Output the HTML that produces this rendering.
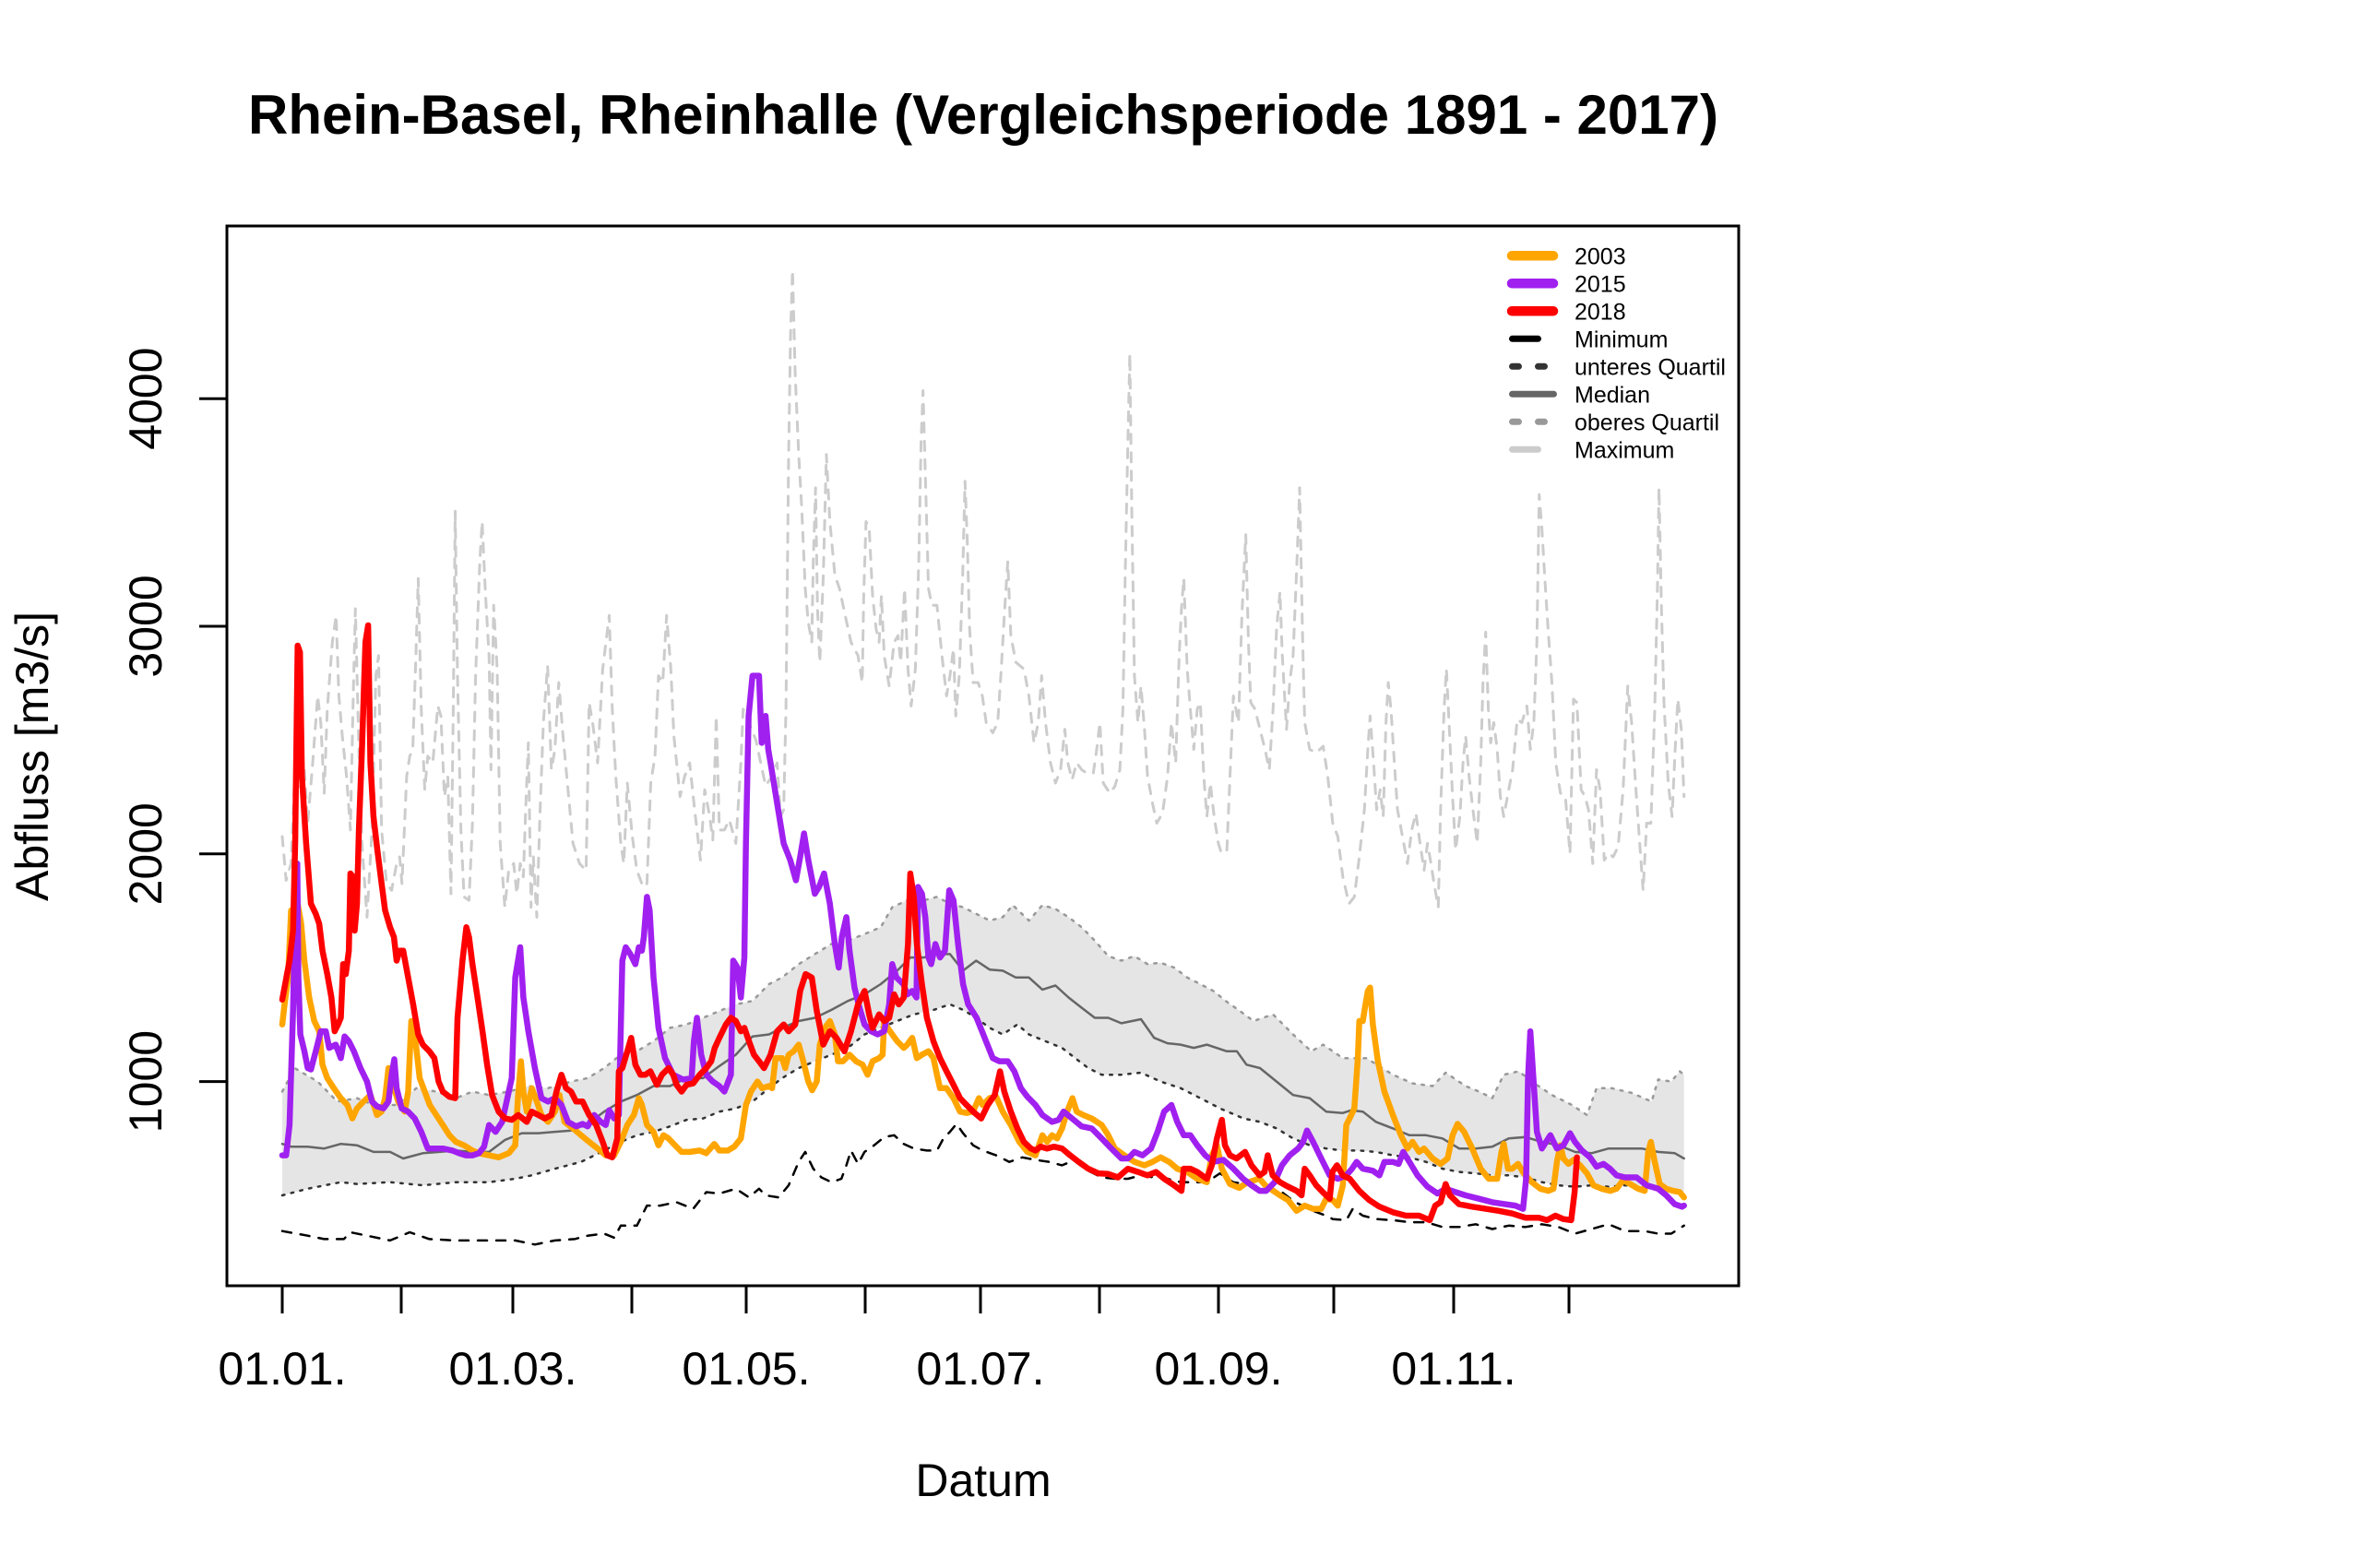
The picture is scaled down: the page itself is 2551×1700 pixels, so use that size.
<!DOCTYPE html>
<html>
<head>
<meta charset="utf-8">
<style>
html,body{margin:0;padding:0;background:#fff;}
svg{display:block;}
text{font-family:"Liberation Sans",Arial,sans-serif;fill:#000;}
</style>
</head>
<body>
<svg id="chart" width="2551" height="1700" viewBox="0 0 2551 1700" xmlns="http://www.w3.org/2000/svg">
<rect x="0" y="0" width="2551" height="1700" fill="#fff"/>
<g id="data"></g>
<rect x="246" y="245" width="1639" height="1149" fill="none" stroke="#000" stroke-width="3"/>
<g stroke="#000" stroke-width="3">
<line x1="216" y1="1172.6" x2="246" y2="1172.6"/>
<line x1="216" y1="925.8" x2="246" y2="925.8"/>
<line x1="216" y1="679" x2="246" y2="679"/>
<line x1="216" y1="432.2" x2="246" y2="432.2"/>
<line x1="306" y1="1394" x2="306" y2="1424"/>
<line x1="435" y1="1394" x2="435" y2="1424"/>
<line x1="556" y1="1394" x2="556" y2="1424"/>
<line x1="685" y1="1394" x2="685" y2="1424"/>
<line x1="809" y1="1394" x2="809" y2="1424"/>
<line x1="938" y1="1394" x2="938" y2="1424"/>
<line x1="1063" y1="1394" x2="1063" y2="1424"/>
<line x1="1192" y1="1394" x2="1192" y2="1424"/>
<line x1="1321" y1="1394" x2="1321" y2="1424"/>
<line x1="1446" y1="1394" x2="1446" y2="1424"/>
<line x1="1576" y1="1394" x2="1576" y2="1424"/>
<line x1="1701" y1="1394" x2="1701" y2="1424"/>
</g>
<text x="1066" y="145" font-size="60" font-weight="bold" text-anchor="middle" textLength="1594" lengthAdjust="spacingAndGlyphs">Rhein-Basel, Rheinhalle (Vergleichsperiode 1891 - 2017)</text>
<g font-size="50" text-anchor="middle">
<text transform="translate(175,1172.6) rotate(-90)">1000</text>
<text transform="translate(175,925.8) rotate(-90)">2000</text>
<text transform="translate(175,679) rotate(-90)">3000</text>
<text transform="translate(175,432.2) rotate(-90)">4000</text>
<text x="306" y="1501">01.01.</text>
<text x="556" y="1501">01.03.</text>
<text x="809" y="1501">01.05.</text>
<text x="1063" y="1501">01.07.</text>
<text x="1321" y="1501">01.09.</text>
<text x="1576" y="1501">01.11.</text>
<text x="1066" y="1622">Datum</text>
<text transform="translate(52,820) rotate(-90)">Abfluss [m3/s]</text>
</g>
<g stroke-linecap="round" fill="none">
<line x1="1639" y1="277.3" x2="1684" y2="277.3" stroke="#FFA500" stroke-width="10.5"/>
<line x1="1639" y1="307.3" x2="1684" y2="307.3" stroke="#A020F0" stroke-width="10.5"/>
<line x1="1639" y1="337.3" x2="1684" y2="337.3" stroke="#FF0000" stroke-width="10.5"/>
<line x1="1639.5" y1="367.3" x2="1684.5" y2="367.3" stroke="#000" stroke-width="7" stroke-dasharray="28 28"/>
<line x1="1639.5" y1="397.3" x2="1684.5" y2="397.3" stroke="#333" stroke-width="7" stroke-dasharray="7 21"/>
<line x1="1639.5" y1="427.3" x2="1684.5" y2="427.3" stroke="#666" stroke-width="7"/>
<line x1="1639.5" y1="457.3" x2="1684.5" y2="457.3" stroke="#999" stroke-width="7" stroke-dasharray="7 21"/>
<line x1="1639.5" y1="487.3" x2="1684.5" y2="487.3" stroke="#ccc" stroke-width="7" stroke-dasharray="28 28"/>
</g>
<g font-size="25">
<text x="1707" y="286.3">2003</text>
<text x="1707" y="316.3">2015</text>
<text x="1707" y="346.3">2018</text>
<text x="1707" y="376.3">Minimum</text>
<text x="1707" y="406.3">unteres Quartil</text>
<text x="1707" y="436.3">Median</text>
<text x="1707" y="466.3">oberes Quartil</text>
<text x="1707" y="496.3">Maximum</text>
</g>
</svg>
<script>
(function(){
var X=function(d){return 306+4.175*d;};
var Y=function(v){return 1172.6-(v-1000)*0.2468;};
function pts(a){return a.map(function(p){return X(p[0]).toFixed(1)+','+Y(p[1]).toFixed(1);}).join(' ');}
var NS="http://www.w3.org/2000/svg";
var g=document.getElementById('data');
function add(tag,attrs){var e=document.createElementNS(NS,tag);for(var k in attrs)e.setAttribute(k,attrs[k]);g.appendChild(e);return e;}

var o03=[[0,1251],[0.6,1339],[1.5,1457],[2.3,1752],[3.35,1693],[4,1781],[4.9,1693],[5.75,1531],[7,1369],[8.3,1266],[9.6,1221],[10.45,1074],[11.7,1015],[13.4,971],[15.2,927],[16.9,897],[18.2,838],[19.4,882],[21.1,912],[22.9,941],[24.6,853],[25.8,868],[26.7,927],[27.6,1059],[28.8,986],[30.1,912],[31.8,868],[32.7,956],[33.5,1266],[34.7,1162],[35.7,1015],[37,956],[38.3,897],[40,853],[41.7,809],[43.4,764],[45.1,735],[47.2,720],[49.4,697],[51.1,685],[53.7,676],[56.2,667],[58.8,685],[60.5,720],[61.2,927],[62,1089],[62.6,956],[63.5,868],[64.8,971],[66.1,912],[67.3,853],[69,823],[70.8,868],[72,941],[73.3,823],[75.5,794],[77.6,764],[79.7,735],[81.9,706],[84,676],[86.2,676],[87.9,735],[89.6,809],[91.3,853],[92.6,927],[93.4,897],[94.7,809],[96.4,779],[97.7,720],[99,764],[100.3,750],[102,720],[103.7,691],[105.8,691],[108.4,697],[110.1,685],[112.2,726],[113.5,697],[115.7,697],[117.4,714],[119.1,750],[120.4,897],[121.7,956],[123.4,1000],[124.6,971],[126.4,980],[127.2,971],[128.1,1103],[129.8,1103],[130.6,1059],[131.5,1118],[132.8,1133],[134.1,1162],[135.3,1089],[136.6,1000],[137.6,962],[138.8,1000],[139.6,1162],[140.9,1236],[142.2,1266],[143.5,1207],[144.3,1089],[145.6,1089],[147.3,1118],[149,1089],[150.7,1074],[152,1030],[153.3,1089],[155,1103],[155.9,1118],[156.3,1266],[157.2,1236],[158.4,1207],[159.7,1177],[161.4,1148],[162.3,1162],[163.6,1192],[164.8,1103],[166.1,1118],[167.8,1133],[169.1,1103],[170,1030],[170.8,971],[172.5,971],[174.3,927],[176,868],[177.7,862],[179.4,868],[180.9,927],[181.9,897],[183.7,927],[185.4,933],[187.1,868],[189.2,809],[191.4,735],[193.5,691],[195.6,676],[197.4,764],[198.6,735],[199.9,764],[201.2,750],[202.5,794],[203.8,868],[205.2,927],[206.3,868],[208,853],[210.2,838],[212.8,809],[214.5,764],[216.2,706],[218.7,676],[221.3,647],[223.9,632],[226,647],[228.1,667],[230.3,647],[232.4,617],[235,603],[237.6,573],[240.1,558],[241.4,676],[242.7,720],[244,617],[246.1,550],[248.5,533],[250.4,555],[252.2,565],[253.7,575],[255.2,545],[256.9,525],[259.1,500],[261.2,479],[263.4,432],[265.5,455],[267.7,441],[269.8,441],[271.1,485],[272.8,479],[274.1,455],[275.4,544],[276.3,809],[277.6,853],[278.4,882],[279.3,1103],[279.7,1266],[280.6,1266],[281.3,1339],[281.9,1398],[282.5,1413],[283.2,1251],[284.5,1089],[286.2,956],[288.4,853],[290.5,764],[292.2,706],[293.5,735],[295.2,691],[296.5,706],[298.7,662],[300.8,638],[302.6,662],[303.9,764],[305.2,814],[306.9,779],[309,706],[311.2,617],[313.3,573],[315.5,573],[316.6,691],[317.2,726],[318.3,617],[319.4,617],[320.9,638],[322.4,597],[324.5,558],[326.7,529],[328.8,520],[330.1,529],[331,647],[331.9,720],[332.7,662],[334,638],[335.3,656],[337,632],[338.8,597],[340.5,544],[342.6,529],[344.8,520],[346.5,529],[348.2,567],[350,550],[352.1,529],[353.8,520],[354.7,691],[355.4,735],[356.4,647],[357.7,550],[359.4,529],[361.2,520],[362.9,514],[364,491]];

var p15=[[0,676],[1,676],[1.9,809],[2.8,1310],[3.35,1752],[3.9,1958],[4.2,1457],[4.7,1207],[5.75,1133],[6.6,1059],[7.46,1053],[8.7,1133],[10,1221],[11.3,1221],[12.2,1148],[13.9,1162],[15.2,1103],[16.2,1198],[17.3,1177],[18.6,1133],[20.3,1059],[22,1000],[23.3,912],[24.6,891],[26.3,882],[27.6,912],[28.4,1030],[29.1,1098],[29.7,971],[31,882],[32.7,868],[34.4,838],[36.1,779],[37.8,706],[40,706],[41.7,706],[44.2,697],[45.9,685],[47.7,676],[49.4,676],[51.1,685],[52.4,714],[53.7,809],[55.4,779],[57.1,823],[59.6,1015],[60.5,1457],[61.8,1590],[62.6,1369],[63.9,1221],[65.6,1059],[67.3,927],[69,912],[70.8,927],[72.5,897],[74.2,823],[76.3,803],[78,814],[79.3,803],[81,853],[82.7,823],[84,809],[84.9,874],[86.2,838],[87.4,853],[88.3,1531],[89.2,1590],[90.4,1560],[91.7,1516],[92.6,1590],[93.4,1575],[93.9,1634],[94.7,1811],[95.4,1752],[96.4,1457],[97.7,1236],[99.4,1103],[101.5,1030],[104.1,1009],[106.3,1015],[106.9,1177],[107.7,1280],[108.8,1118],[110.1,1030],[111.8,1000],[113.5,980],[114.8,956],[116.5,1030],[117.1,1531],[118.2,1501],[119.1,1369],[120,1545],[120.4,2046],[121.1,2606],[122.1,2783],[123.8,2783],[124.5,2488],[125.5,2606],[126.2,2459],[126.8,2400],[128.5,2223],[130.2,2046],[131.9,1973],[133.4,1884],[134.5,1987],[135.5,2090],[136.6,1973],[138.3,1825],[139.4,1855],[140.7,1914],[142.2,1781],[143.5,1604],[144.5,1501],[145.3,1634],[146.5,1722],[147.3,1575],[148.6,1413],[149.9,1324],[151.2,1251],[152.9,1221],[154.6,1207],[156.3,1221],[157.6,1339],[158.4,1516],[159.5,1457],[161.3,1428],[162.3,1383],[163.6,1398],[164.7,1369],[165.1,1855],[166.1,1825],[167,1722],[167.8,1545],[168.5,1516],[169.6,1604],[170.8,1545],[172.1,1575],[173.2,1840],[174.3,1796],[175.5,1604],[176.8,1428],[178.1,1339],[180.3,1280],[182.4,1192],[184.5,1103],[186.2,1089],[188.4,1089],[190.1,1045],[191.8,971],[193.5,933],[195.6,897],[197.4,853],[199.9,823],[201.6,832],[202.9,868],[205.1,838],[207.6,803],[210.2,794],[212.8,750],[215.3,706],[217.9,662],[219.6,662],[221.3,691],[223.4,676],[225.6,706],[227.3,779],[229,868],[230.9,897],[232.4,823],[234.1,764],[235.8,764],[237.6,720],[239.7,676],[241.8,647],[244.4,656],[247,617],[249.5,573],[251.7,544],[253.8,520],[255.5,520],[257.7,558],[259.6,632],[261.6,676],[263.8,706],[265.1,735],[266.1,785],[267.7,735],[269.8,662],[272,588],[274.1,573],[276.3,588],[277.8,617],[279,647],[280.6,617],[283.2,608],[284.9,588],[286.2,647],[288.4,647],[289.9,638],[291.1,691],[292.7,647],[294.8,588],[297.4,538],[300,508],[302.1,529],[304.7,514],[307.3,500],[310.8,485],[314.2,470],[317.6,461],[320.2,455],[322.2,441],[323,573],[323.5,1015],[324.1,1221],[325,986],[325.8,779],[327.1,706],[328.2,735],[329.3,764],[331,706],[332.7,720],[334.4,773],[335.7,735],[337.5,697],[339.6,667],[341.3,626],[343.1,638],[344.8,617],[346.5,588],[348.7,579],[351.7,579],[354.3,544],[357.3,529],[359.4,500],[361.6,461],[363.5,450],[364,455]];

var r18=[[0,1360],[1.9,1531],[2.8,1663],[3.35,2046],[4,2915],[4.6,2886],[5.1,2341],[6.2,2046],[7.46,1781],[8.7,1737],[9.6,1693],[10.45,1575],[11.7,1472],[12.76,1369],[13.6,1221],[14.5,1251],[15.2,1280],[15.8,1516],[16.5,1472],[17.3,1575],[17.7,1914],[18.4,1899],[18.8,1663],[19.4,1781],[19.9,2105],[20.7,2459],[21.6,2930],[22.3,3004],[22.9,2400],[23.7,2164],[24.7,2017],[25.8,1870],[26.7,1752],[28,1678],[29,1634],[29.7,1531],[30.5,1575],[31.4,1575],[32.7,1457],[34,1339],[35.3,1207],[36.5,1162],[38.2,1133],[39.5,1103],[40.6,1000],[41.7,956],[43.4,933],[44.9,927],[45.5,1280],[46.8,1531],[47.8,1678],[48.5,1634],[49.4,1516],[50.7,1369],[52,1221],[53.2,1074],[54.5,941],[56.2,868],[57.9,838],[59.6,832],[61.3,853],[63.5,823],[64.8,868],[66.5,853],[68.2,838],[69.9,853],[71.2,956],[72.5,1030],[73.7,971],[75,956],[76.3,912],[78,912],[79.7,853],[81.5,809],[83.2,735],[84.4,676],[85.7,667],[87,750],[87.4,1045],[88.3,1059],[89.6,1133],[90.6,1192],[91.7,1074],[93,1030],[94.3,1030],[95.6,1045],[97.3,986],[98.6,1030],[100.3,1059],[101.5,1030],[102.4,986],[103.7,956],[105,986],[106.7,992],[108.4,1030],[110.1,1059],[111.4,1089],[112.3,1148],[113.5,1192],[115.2,1251],[116.5,1280],[117.8,1266],[119.1,1221],[120,1236],[121.2,1177],[122.5,1118],[123.8,1089],[125.1,1059],[126.8,1118],[128.5,1221],[130.2,1251],[131.5,1221],[133.2,1251],[134.5,1398],[135.9,1472],[137.5,1457],[138.8,1310],[140.5,1162],[142.2,1221],[143.9,1192],[146,1133],[147.7,1221],[149.5,1339],[151.2,1398],[152.4,1295],[153.3,1236],[155,1295],[156.3,1266],[157.6,1280],[158.9,1383],[160.1,1339],[161.4,1369],[162.5,1604],[163.1,1914],[164,1811],[164.8,1604],[166.1,1428],[167.4,1280],[169.1,1177],[170.8,1103],[172.5,1045],[174.3,986],[176,927],[177.7,897],[179.4,868],[181.5,838],[183.2,897],[185,941],[186.4,1045],[187.5,956],[189.2,868],[190.9,794],[192.6,735],[194.4,706],[195.6,697],[196.9,714],[198.6,706],[200.4,714],[202.5,706],[204.6,676],[206.8,647],[209.3,617],[211.9,597],[214.5,594],[217,579],[219.6,617],[222.2,603],[224.7,588],[226.9,603],[229,573],[231.6,544],[233.5,520],[234.1,617],[235.8,617],[237.6,603],[240.1,573],[241.4,632],[242.7,750],[244,832],[244.8,720],[246.1,676],[247.8,662],[250,691],[251.7,632],[253.8,588],[255.1,603],[255.9,676],[257.2,588],[259.1,558],[261.2,538],[263.4,520],[264.7,500],[265.5,617],[266.8,588],[268.5,544],[270.2,514],[272,485],[272.7,603],[273.9,632],[275.4,588],[277.2,573],[279.7,520],[282.3,479],[284.9,450],[288.4,426],[291.8,411],[295.2,411],[298,391],[299.4,455],[300.8,470],[302.1,550],[303.2,500],[305.6,461],[309,450],[312.5,441],[315.9,432],[319.4,420],[322.8,402],[326.3,402],[328.4,391],[330.6,411],[332.7,396],[334.7,391],[335.6,514],[336.2,667]];

var med=[[0,726],[2.3,714],[6.6,714],[10.9,706],[15.2,726],[19.4,720],[23.7,691],[28,691],[31.4,662],[36.5,685],[40.8,691],[45.1,697],[49.4,691],[53.7,691],[57.9,744],[62.2,773],[66.5,773],[70.8,779],[75,785],[79.3,814],[83.6,868],[87.9,912],[92.1,941],[96.4,980],[100.7,980],[105,1015],[109.3,1015],[113.5,1068],[117.8,1118],[122.1,1198],[126.4,1207],[129.8,1236],[134.1,1266],[138.3,1280],[142.6,1315],[146.9,1354],[151.2,1383],[155.4,1428],[159.7,1487],[163.1,1545],[166.6,1545],[170,1560],[173.4,1560],[176.8,1487],[180.2,1531],[183.7,1492],[187.1,1487],[190.5,1457],[193.9,1457],[197.4,1404],[200.8,1422],[204.2,1369],[207.6,1324],[211,1280],[214.5,1280],[217.9,1256],[223,1274],[226.4,1192],[229.9,1168],[233.3,1162],[236.7,1148],[240.1,1162],[245.3,1133],[247.9,1133],[250.4,1074],[253.9,1059],[258.2,1000],[262.5,941],[266.8,927],[271.1,868],[275.4,862],[277.6,874],[280.6,868],[284,823],[288.4,794],[292.7,764],[297,764],[301.3,750],[305.6,706],[309.9,706],[314.2,714],[318.5,750],[322.8,756],[327.1,735],[331.4,720],[335.7,691],[340,685],[344.4,706],[348.7,706],[353,706],[357.3,691],[361.6,685],[364,662]];

var uq=[[0,956],[3.2,1059],[9.2,1000],[14.3,912],[19.4,927],[23.7,897],[29.7,897],[34.8,971],[40,956],[45.1,927],[49.4,956],[53.7,941],[58.8,956],[63.9,980],[69,971],[75,1000],[79.3,1015],[83.6,1059],[87.9,1118],[92.1,1133],[96.4,1177],[100.7,1236],[105,1251],[109.3,1280],[113.5,1310],[117.8,1339],[122.1,1354],[126.4,1428],[129.8,1457],[134.1,1516],[138.3,1560],[142.6,1604],[146.9,1619],[151.2,1648],[155.4,1678],[158.4,1766],[162.3,1796],[166.6,1796],[170,1811],[173.4,1781],[176.8,1766],[180.2,1737],[183.7,1707],[187.1,1722],[189.7,1775],[193.9,1707],[197.4,1775],[200.8,1758],[204.2,1722],[207.6,1678],[211,1619],[214.5,1551],[217.9,1531],[221.3,1551],[224.7,1516],[228.1,1522],[231.6,1501],[235,1457],[238.4,1428],[241.8,1398],[245.3,1350],[248.7,1310],[252.2,1266],[257.3,1295],[262.5,1207],[267.2,1133],[270.3,1162],[275.4,1103],[281.5,1103],[288.4,1030],[293.5,992],[298.7,980],[302.1,1039],[307.3,980],[310.8,956],[314.2,927],[317.2,1030],[321.1,1045],[324.5,1000],[329.7,941],[334.9,897],[338.8,853],[341.3,971],[345.2,971],[350.4,950],[355.6,912],[357.3,1009],[360.7,1000],[362.9,1045],[364,1030]];

var lq=[[0,500],[6.6,529],[15.2,558],[19.4,550],[28,558],[36.5,544],[45.1,558],[53.7,558],[60.5,573],[64.8,588],[70.8,617],[77.6,647],[83.6,697],[87.9,735],[92.1,764],[96.4,779],[100.7,803],[105,832],[109.3,838],[113.5,868],[117.8,882],[122.1,912],[126.4,971],[129.8,1015],[134.1,1059],[138.3,1089],[142.6,1118],[146.9,1148],[151.2,1207],[155.4,1236],[159.7,1266],[164,1295],[168.3,1310],[173.4,1339],[176.8,1315],[180.2,1280],[183.7,1236],[187.1,1207],[190.9,1251],[193.9,1207],[198.2,1177],[202.5,1148],[205.9,1103],[209.3,1059],[212.8,1030],[217.9,1030],[223,1039],[228.1,1000],[233.3,971],[238.4,927],[243.5,882],[249.6,838],[253.9,823],[258.2,794],[262.5,750],[266.8,720],[271.1,706],[275.4,697],[279.7,697],[284,691],[288.4,676],[292.7,667],[297,647],[301.3,617],[305.6,603],[309.9,597],[314.2,588],[318.5,588],[322.8,579],[327.1,558],[331.4,544],[335.7,538],[340,544],[344.4,538],[348.7,544],[353,538],[357.3,529],[361.6,520],[364,514]];

var mn=[[0,343],[6.6,323],[10.9,308],[16,308],[17.7,338],[22,323],[28,302],[33.1,338],[38.2,308],[45.1,302],[53.7,302],[60.5,302],[65.6,284],[70.8,302],[75.9,308],[79.3,323],[83.6,332],[86.2,314],[87.9,367],[92.1,367],[94.7,455],[98.1,455],[102.4,470],[106.7,441],[110.1,514],[113.5,508],[117.8,529],[121.2,491],[123.8,529],[125.5,500],[128.9,491],[131.5,544],[134.1,647],[135.8,691],[137.9,617],[140,579],[142.6,558],[145.2,573],[146.5,632],[147.7,697],[149.5,638],[151.2,691],[153.7,720],[156.3,756],[158.9,764],[161.4,726],[164,706],[167.4,697],[170,697],[171.7,750],[173.4,779],[175.1,814],[176.8,773],[179.4,720],[181.9,697],[185.4,676],[188.8,647],[192.2,667],[195.6,656],[199.1,647],[202.5,632],[205.9,656],[209.3,608],[212.8,579],[216.2,573],[219.6,573],[223,588],[226.4,579],[229.9,573],[233.3,558],[236.7,558],[240.1,558],[243.5,597],[246.9,558],[250.4,550],[253.8,538],[257.2,529],[259.6,514],[263,470],[268,430],[271.1,411],[272.8,396],[276.3,391],[278,441],[280.6,411],[284,396],[288.4,391],[292.7,382],[297,382],[301.3,361],[305.6,361],[309.9,373],[314.2,352],[318.5,367],[322.8,361],[327.1,373],[331.4,361],[335.7,332],[340,352],[344.4,373],[348.7,343],[353.8,343],[357.3,332],[360.7,332],[364,367]];

var mx=[[0,2076],[1,1884],[2.3,1958],[3.2,2341],[4.5,2282],[5.75,2370],[6.6,2135],[7.9,2400],[9.2,2694],[10,2577],[10.9,2267],[11.7,2636],[13,2930],[14,3048],[14.7,2694],[15.6,2518],[16.7,2341],[17.7,2105],[18.4,2665],[19,3077],[19.9,2459],[20.7,2046],[22,1722],[23.3,2105],[24.3,2783],[25,2871],[25.8,2105],[27.1,1870],[28.4,1840],[29.7,1958],[30.5,1987],[31.1,1870],[32.3,2341],[33.1,2429],[33.9,2459],[34.7,2871],[35.3,3210],[36.1,2636],[37,2282],[37.8,2429],[39.1,2400],[40.4,2650],[41.2,2606],[42.1,2252],[43,2341],[43.8,1825],[44.4,2636],[44.9,3505],[45.5,2783],[46.4,2105],[47.2,1811],[48.5,1796],[49.4,2135],[50.2,2783],[51.3,3284],[51.9,3460],[52.8,3136],[53.7,2871],[54.2,2370],[54.9,3092],[55.8,2812],[56.6,2046],[57.8,1766],[58.8,1928],[60.1,1958],[60.9,1825],[61.8,1958],[62.6,1899],[63.2,2194],[63.9,2488],[64.6,1766],[65.2,1987],[66.1,1722],[66.9,2164],[67.8,2577],[68.9,2827],[69.9,2370],[70.8,2459],[71.8,2753],[72.9,2518],[74.2,2282],[75.5,2046],[77.2,1958],[78.9,1928],[79.7,2665],[80.6,2577],[81.9,2400],[83.2,2812],[84.9,3048],[85.7,2636],[86.6,2341],[87.9,2046],[88.7,1958],[89.6,2311],[90.9,2076],[92.1,1928],[93.7,1855],[94.7,1870],[95.7,2311],[96.8,2429],[97.7,2783],[98.8,2753],[99.8,3048],[100.9,2812],[101.7,2518],[103.3,2252],[104.5,2341],[105.8,2400],[107.1,2194],[108.6,1973],[109.7,2282],[111,2164],[111.8,2061],[112.7,2606],[113.5,2105],[114.8,2105],[116.1,2150],[117.8,2046],[119.1,2400],[119.7,2636],[121.2,2577],[123,2500],[125.5,2300],[127.2,2341],[128.5,2400],[129.4,2164],[130.2,2194],[130.8,2636],[131.5,3755],[132,4285],[132.5,4565],[133.2,4108],[134.1,3755],[134.9,3519],[135.8,3166],[136.6,3018],[137.5,2930],[137.9,3284],[138.5,3608],[139,3077],[139.6,2842],[140.5,3225],[141.3,3755],[142.2,3460],[143.5,3225],[144.7,3166],[146,3063],[147.7,2930],[149.5,2871],[150.6,2753],[151,3136],[151.6,3460],[152.4,3431],[153.3,3136],[154.2,2989],[155,2930],[155.6,3136],[156.3,2871],[157.6,2738],[158.9,2930],[159.9,2959],[160.6,2842],[161.6,3166],[162.5,2812],[163.3,2650],[164.4,2812],[165.3,3284],[165.9,3814],[166.4,4035],[167,3667],[167.8,3166],[168.7,3092],[170,3092],[171.3,2871],[172.5,2694],[173.4,2783],[174.3,2901],[174.9,2606],[175.8,2783],[176.7,3225],[177.3,3637],[177.9,3372],[178.5,2989],[179.4,2753],[180.7,2753],[181.8,2694],[182.8,2577],[184.5,2532],[185.8,2577],[186.7,2812],[187.5,3048],[188.4,3284],[189.2,2959],[190.5,2842],[192.6,2812],[193.9,2694],[195.2,2488],[196.3,2577],[197.2,2783],[198.2,2577],[199.5,2400],[200.8,2311],[202.1,2370],[203.2,2547],[204,2400],[205.1,2326],[206.3,2400],[207.6,2370],[208.9,2355],[210.6,2355],[211.5,2459],[212.3,2577],[213.2,2311],[214.9,2267],[216.2,2296],[217.5,2370],[218.3,2636],[218.9,3225],[219.6,3814],[220.1,4197],[220.6,3519],[221.3,2783],[222.2,2577],[223,2738],[223.9,2547],[224.7,2341],[226,2223],[227.1,2135],[228.6,2179],[229.9,2341],[230.9,2577],[232,2400],[232.9,2871],[233.5,3077],[234.1,3210],[235,2812],[235.8,2636],[236.7,2459],[237.6,2636],[238.4,2665],[239.3,2341],[240.1,2164],[241,2311],[242,2164],[243.1,2046],[243.9,2002],[245.3,2017],[246.1,2341],[247,2694],[248.3,2577],[249.2,3048],[250.2,3402],[250.9,2930],[251.5,2665],[252.6,2636],[253.9,2547],[255.2,2459],[256.3,2370],[257.3,2636],[258.2,2989],[259.1,3151],[259.7,2871],[260.8,2547],[261.6,2753],[262.5,2871],[263.5,3284],[264.2,3608],[264.9,2989],[265.5,2577],[266.8,2459],[268.5,2444],[270.3,2473],[271.5,2341],[272.8,2135],[274.1,2076],[275.4,1899],[277,1781],[278.4,1811],[279.7,1987],[281,2194],[281.9,2459],[282.5,2606],[283.4,2400],[284.2,2194],[285.1,2282],[285.9,2164],[286.6,2577],[287.2,2753],[287.9,2636],[288.8,2400],[289.6,2194],[290.9,2076],[292.2,1958],[293.3,2105],[294.4,2179],[295.2,2076],[296.5,1928],[297.4,2046],[298.3,1958],[299.1,1870],[300.2,1766],[300.8,2194],[301.7,2636],[302.3,2812],[303,2577],[303.9,2252],[304.7,2017],[305.8,2164],[306.6,2400],[307.3,2518],[308.2,2341],[309.2,2194],[310.3,2046],[311.2,2400],[311.8,2753],[312.5,2974],[313.2,2636],[313.8,2488],[314.6,2577],[315.5,2459],[316.3,2252],[317.2,2164],[318.5,2282],[319.5,2370],[320.7,2591],[321.9,2577],[323.2,2650],[324.1,2459],[325,2577],[325.8,2930],[326.4,3578],[327.1,3431],[327.8,3225],[328.7,2989],[329.7,2753],[330.7,2400],[331.9,2267],[333.2,2252],[334.4,2002],[335.3,2680],[336.2,2665],[337.3,2282],[338.3,2252],[339.2,2194],[340.3,1958],[341.3,2370],[342.2,2282],[343.3,1973],[344.4,2002],[345.6,1987],[346.9,2032],[348.2,2282],[349.4,2738],[350.4,2577],[351.4,2311],[352.5,2046],[353.4,1840],[354.3,2135],[355.4,2135],[356.4,2636],[357.1,3166],[357.5,3608],[358.1,3107],[358.8,2665],[359.9,2311],[360.9,2164],[361.7,2459],[362.4,2680],[363.3,2547],[364,2252]];

// band
add('polygon',{points:pts(uq)+' '+pts(lq.slice().reverse()),fill:'#E5E5E5',stroke:'none'});
var common={fill:'none','stroke-linecap':'round','stroke-linejoin':'round'};
function line(a,st){var at={points:pts(a)};for(var k in common)at[k]=common[k];for(var k2 in st)at[k2]=st[k2];add('polyline',at);}
line(lq,{stroke:'#333','stroke-width':2.5,'stroke-dasharray':'2.5 7.5'});
line(uq,{stroke:'#999','stroke-width':2.5,'stroke-dasharray':'2.5 7.5'});
line(med,{stroke:'#666','stroke-width':2.5});
line(mn,{stroke:'#000','stroke-width':2.5,'stroke-dasharray':'10 10'});
line(mx,{stroke:'#ccc','stroke-width':3,'stroke-dasharray':'10 10'});
line(o03,{stroke:'#FFA500','stroke-width':6.5});
line(p15,{stroke:'#A020F0','stroke-width':6.5});
line(r18,{stroke:'#FF0000','stroke-width':6.5});
})();
</script>
</body>
</html>
